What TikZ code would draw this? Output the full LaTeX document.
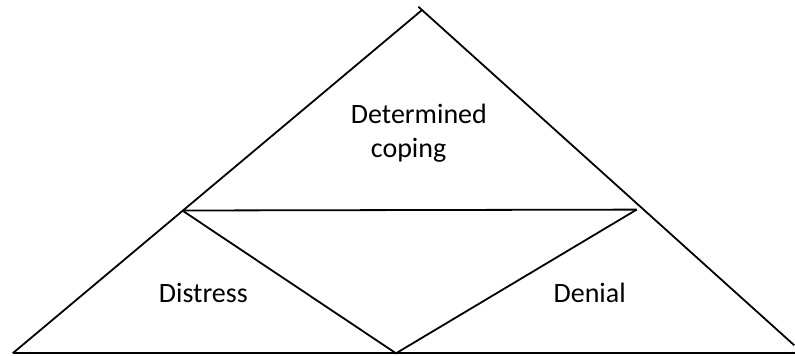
\documentclass[tikz,border=0pt]{standalone}
\usepackage{fontspec}
\setmainfont{Carlito}
\usetikzlibrary{positioning}

\begin{document}
\begin{tikzpicture}[x=1pt, y=-1pt, line width=1.8pt,
    lbl/.style={inner sep=0pt, anchor=base west, font=\fontsize{28}{34}\selectfont}]

  \useasboundingbox (0,0) rectangle (795,356);

	%outer triangle
  \coordinate (BL) at (12.7,353.3);
  \coordinate (BR) at (795,353.3);
  \coordinate (A) at (421.7,10.3);
  \coordinate (T) at (418.3,6.7);
  \coordinate (R) at (794.3,345.3);

  \draw (BL) -- (BR);
  \draw (BL) -- (A);
  \draw (T) -- (R);

	%inner lines
  \coordinate (JL) at (182.3,210.5);
  \coordinate (JR) at (636.7,209.6);
  \coordinate (V) at (396,353.3);

  \draw (JL) -- (JR);
  \draw (JL) -- (V) -- (JR);

	%labels
  \node[lbl] (det) at (350,123.3) {Determined};
  \node[lbl] (cop) at (370,157.5) {coping};
  \node[lbl] (dis) at (158,302.7) {Distress};
  \node[lbl] (den) at (552.7,302.7) {Denial};

\end{tikzpicture}
\end{document}
